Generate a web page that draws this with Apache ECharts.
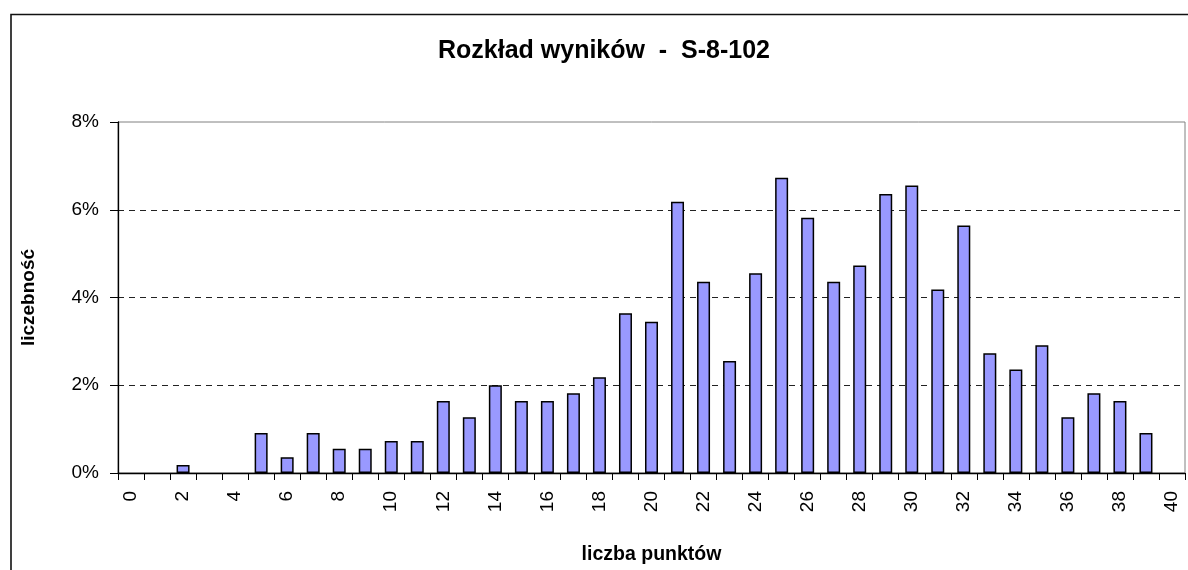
<!DOCTYPE html>
<html>
<head>
<meta charset="utf-8">
<script src="https://cdn.jsdelivr.net/npm/echarts@6/dist/echarts.min.js"></script>
<style>
html,body{margin:0;padding:0;background:#fff;}
#chart{width:1188px;height:570px;}
</style>
</head>
<body>
<div id="chart"></div>
<script>
const titleText = 'Rozkład wyników  -  S-8-102';
const xAxisName = 'liczba punktów';
const yAxisName = 'liczebność';
const categories = ['0','1','2','3','4','5','6','7','8','9','10','11','12','13','14','15','16','17','18','19','20','21','22','23','24','25','26','27','28','29','30','31','32','33','34','35','36','37','38','39','40'];
const percentValues = [0,0,0.18,0,0,0.91,0.36,0.91,0.55,0.55,0.73,0.73,1.64,1.27,2.00,1.64,1.64,1.82,2.18,3.64,3.45,6.18,4.36,2.55,4.55,6.73,5.82,4.36,4.73,6.36,6.55,4.18,5.64,2.73,2.36,2.91,1.27,1.82,1.64,0.91,0];
const yMin = 0, yMax = 8, yInterval = 2;

const chart = echarts.init(document.getElementById('chart'), null, {renderer:'canvas'});
const font = '"Liberation Sans", Arial, sans-serif';
chart.setOption({
  animation:false,
  backgroundColor:'#fff',
  title:{
    text:titleText,
    left:599, top:34, textAlign:'center',
    textStyle:{fontFamily:font,fontSize:25,fontWeight:'bold',color:'#000'}
  },
  graphic:[{
    type:'rect', silent:true,
    shape:{x:11,y:14.5,width:1400,height:800},
    style:{fill:'none',stroke:'#111',lineWidth:1.6}
  }],
  grid:{left:118,top:122,right:3,bottom:95,show:true,borderColor:'#808080',borderWidth:1,backgroundColor:'transparent'},
  xAxis:{
    type:'category', data:categories,
    name:xAxisName, nameLocation:'middle', nameGap:72,
    nameTextStyle:{fontFamily:font,fontSize:19.5,fontWeight:'bold',color:'#000'},
    axisLine:{lineStyle:{color:'#000',width:1.3}},
    axisTick:{show:true,interval:0,length:7,lineStyle:{color:'#000'}},
    axisLabel:{interval:1,rotate:90,margin:18,fontFamily:font,fontSize:19,color:'#000'},
    splitLine:{show:false}
  },
  yAxis:{
    type:'value', min:yMin, max:yMax, interval:yInterval,
    name:yAxisName, nameLocation:'middle', nameGap:80,
    nameTextStyle:{fontFamily:font,fontSize:19,fontWeight:'bold',color:'#000'},
    axisLine:{show:true,lineStyle:{color:'#000',width:1.3}},
    axisTick:{show:true,length:8,lineStyle:{color:'#000'}},
    axisLabel:{formatter:'{value}%',margin:19,fontFamily:font,fontSize:19,color:'#000'},
    splitLine:{show:true,showMinLine:false,showMaxLine:false,lineStyle:{color:'#222',type:[6,5],width:1}}
  },
  series:[{
    type:'bar',
    data:percentValues.map(v => v === 0 ? {value:v, itemStyle:{borderWidth:0}} : v),
    barWidth:13,
    itemStyle:{color:'#9999FF',borderColor:'#000',borderWidth:1.5}
  }]
});
</script>
</body>
</html>
